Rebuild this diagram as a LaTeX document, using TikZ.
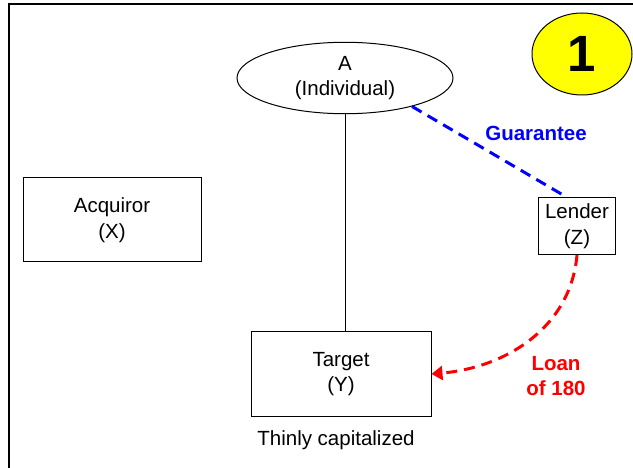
\documentclass[tikz,border=0pt]{standalone}
\usepackage{fontspec}
\setmainfont{Liberation Sans}
\usetikzlibrary{shapes.geometric,arrows.meta}
\definecolor{guarblue}{RGB}{0,0,255}
\definecolor{loanred}{RGB}{255,0,0}
\definecolor{markyellow}{RGB}{255,255,0}
\tikzset{
    party/.style={draw, line width=1pt, align=center},
    deal/.style={line width=3pt, dash pattern=on 11pt off 7pt},
}
\begin{document}
\begin{tikzpicture}[x=1pt, y=-1pt, every node/.style={font=\fontsize{20.5}{25.5}\selectfont}]
        \pgfmathsetmacro{\boxheight}{84}
        \useasboundingbox (0,0) rectangle (633,468);
        \draw [line width=2pt] (9,468) |- (633,4);
        % parties
        \node [party, ellipse, minimum width=216pt, minimum height=62pt] (A) at (345,78) {A\\(Individual)};
        \node [party, ellipse, fill=markyellow, minimum width=100pt, minimum height=82pt, font=\bfseries\fontsize{51}{51}\selectfont] (one) at (582,54) {1};
        \node [party, minimum width=178pt, minimum height=\boxheight pt] (X) at (112,220) {Acquiror\\(X)};
        \node [party, minimum width=77pt, minimum height=57pt] (Z) at (577,226) {Lender\\(Z)};
        \node [party, minimum width=180pt, minimum height=85pt] (Y) at (341,374) {Target\\(Y)};
        \node (thin) at (336,440) {Thinly capitalized};
        % links
        \draw [line width=1pt] (A.south) -- (A.south |- Y.north);
        \draw [deal, guarblue] (A.-23) -- (Z.110);
        \node [guarblue, font=\bfseries\fontsize{20.5}{25.5}\selectfont] (guar) at (536,133) {Guarantee};
        \draw [deal, loanred, -{Triangle[length=11pt, width=14pt]}] (Z.south) to[out=-95, in=5] (Y.east);
        \node [loanred, align=center, font=\bfseries\fontsize{20.5}{25.5}\selectfont] (loan) at (556,376) {Loan\\of 180};
    \end{tikzpicture}
\end{document}
